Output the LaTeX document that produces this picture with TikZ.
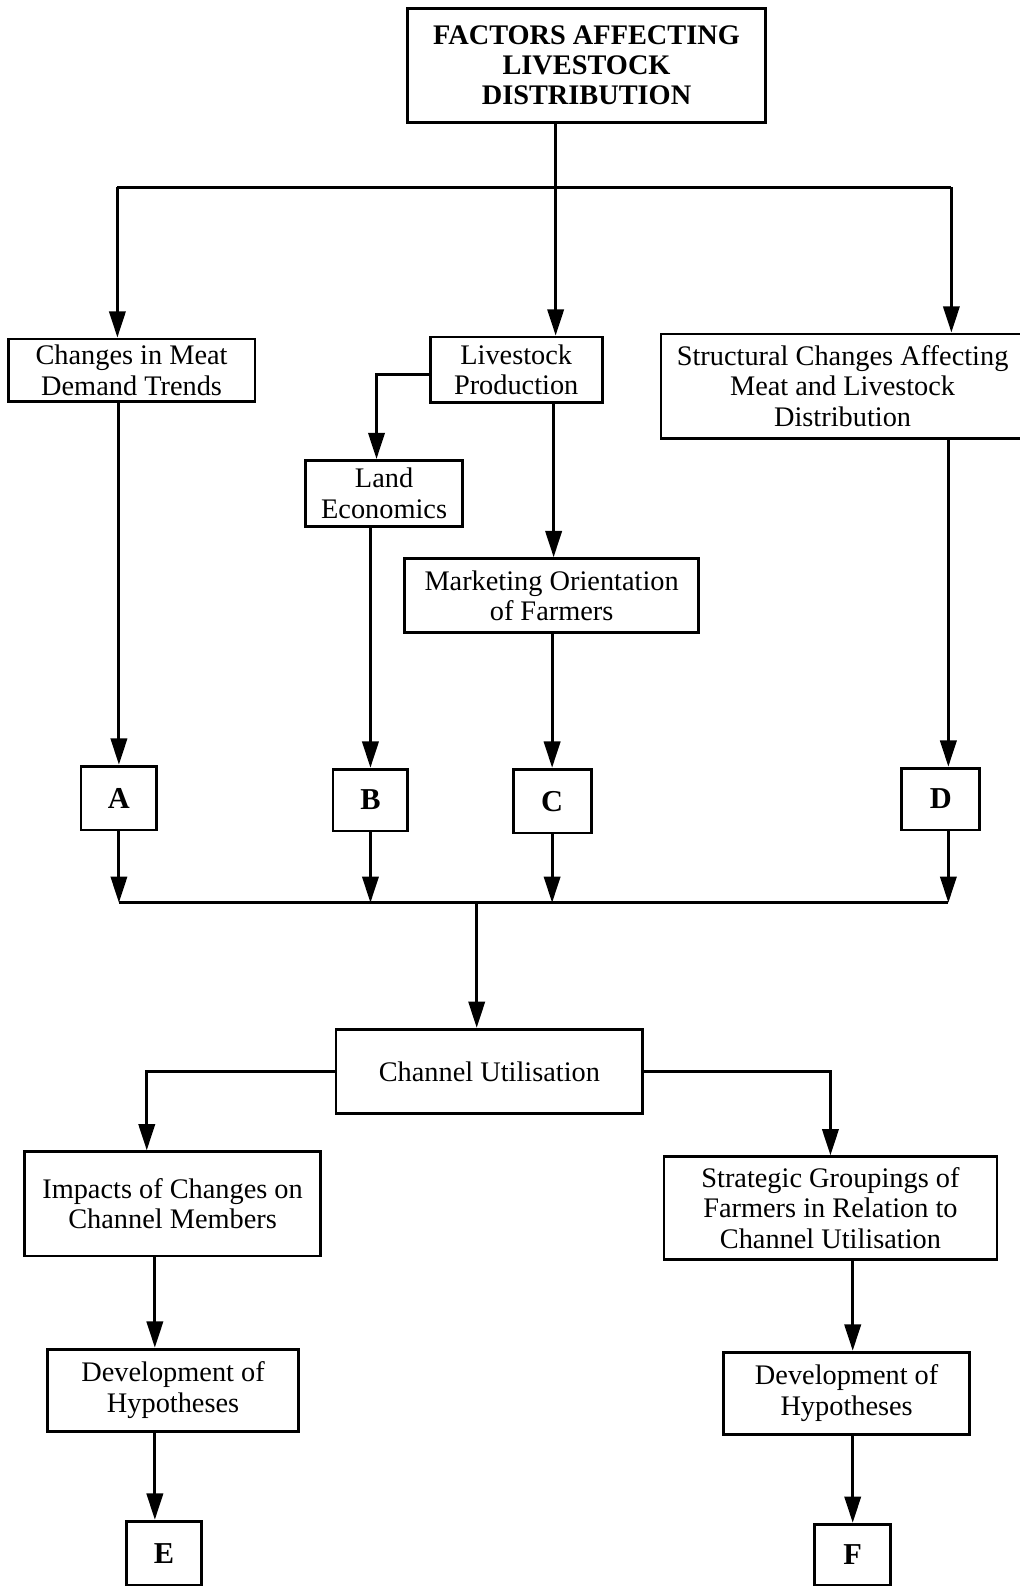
\documentclass[tikz,border=0pt]{standalone}
\usepackage{fontspec}
\setmainfont{Liberation Serif}
\usetikzlibrary{arrows.meta}

\tikzset{
  box/.style={draw, line width=2.8pt, align=center, inner sep=0pt,
              font=\fontsize{28}{30}\selectfont},
  letterbox/.style={box, font=\bfseries\fontsize{30}{30}\selectfont},
  ln/.style={line width=3.1pt},
  arr/.style={line width=3.1pt, -{Triangle[length=26pt,width=16pt]}},
}

\begin{document}
\begin{tikzpicture}[x=1pt, y=-1pt]
\useasboundingbox (0,0) rectangle (1007,1568);

% boxes
\node[box, minimum width=353pt, minimum height=113pt, font=\bfseries\fontsize{28}{30}\selectfont]
  (top) at (579.5,64.5) {FACTORS AFFECTING\\LIVESTOCK\\DISTRIBUTION};
\node[box, minimum width=244pt, minimum height=62pt] (changes) at (130,366)
  {Changes in Meat\\Demand Trends};
\node[box, minimum width=170pt, minimum height=65pt] (livestock) at (510,365.5)
  {Livestock\\Production};
\node[box, minimum width=359pt, minimum height=103pt] (structural) at (832.5,381.5)
  {Structural Changes Affecting\\Meat and Livestock\\Distribution};
\node[box, minimum width=155pt, minimum height=65pt] (land) at (379.5,487.5)
  {Land\\Economics};
\node[box, minimum width=290pt, minimum height=73pt] (marketing) at (545,588.5)
  {Marketing Orientation\\of Farmers};

\node[letterbox, minimum width=75pt, minimum height=63pt] (A) at (117.5,788.5) {A};
\node[letterbox, minimum width=74pt, minimum height=61pt] (B) at (366,790.5) {B};
\node[letterbox, minimum width=77pt, minimum height=63pt] (C) at (545.5,791.5) {C};
\node[letterbox, minimum width=77pt, minimum height=61pt] (D) at (929.5,789.5) {D};

\node[box, minimum width=303pt, minimum height=83pt] (channel) at (483.5,1058.5)
  {Channel Utilisation};
\node[box, minimum width=293pt, minimum height=103pt] (impacts) at (170.5,1189.5)
  {Impacts of Changes on\\Channel Members};
\node[box, minimum width=329pt, minimum height=101pt] (strategic) at (820.5,1193.5)
  {Strategic Groupings of\\Farmers in Relation to\\Channel Utilisation};
\node[box, minimum width=248pt, minimum height=81pt] (devL) at (171,1373.5)
  {Development of\\Hypotheses};
\node[box, minimum width=243pt, minimum height=81pt] (devR) at (836.5,1376.5)
  {Development of\\Hypotheses};
\node[letterbox, minimum width=74pt, minimum height=63pt] (E) at (162,1534.5) {E};
\node[letterbox, minimum width=75pt, minimum height=60pt] (F) at (842.5,1536) {F};

% helper coordinates for the connector routes
\coordinate (t0) at (549,185);
\coordinate (busL) at (116,185);
\coordinate (busR) at (940,185);
\coordinate (lk) at (372,370);
\coordinate (xm) at (547,0);
\coordinate (xd) at (937,0);
\coordinate (b2) at (0,892);
\coordinate (xc) at (471,0);
\coordinate (xi) at (145,0);
\coordinate (xe) at (153,0);

% top distribution
\draw[ln] (t0 |- top.south) -- (t0);
\draw[ln] (busL) -- (busR);
\draw[arr] (busL) -- (busL |- changes.north);
\draw[arr] (t0) -- (t0 |- livestock.north);
\draw[arr] (busR) -- (busR |- structural.north);

% livestock production branches
\draw[arr] (livestock.west |- lk) -- (lk) -- (lk |- land.north);
\draw[arr] (xm |- livestock.south) -- (xm |- marketing.north);

% down to the letter boxes
\draw[arr] (A.north |- changes.south) -- (A.north);
\draw[arr] (B.north |- land.south) -- (B.north);
\draw[arr] (C.north |- marketing.south) -- (C.north);
\draw[arr] (xd |- structural.south) -- (xd |- D.north);

% letter boxes into the collecting line
\draw[arr] (A.south) -- (A.south |- b2);
\draw[arr] (B.south) -- (B.south |- b2);
\draw[arr] (C.south) -- (C.south |- b2);
\draw[arr] (xd |- D.south) -- (xd |- b2);
\draw[ln] (A.south |- b2) -- (xd |- b2);
\draw[arr] (xc |- b2) -- (xc |- channel.north);

% channel utilisation branches
\draw[arr] (channel.west) -- (xi |- channel.west) -- (xi |- impacts.north);
\draw[arr] (channel.east) -- (strategic.north |- channel.east) -- (strategic.north);

% hypotheses
\draw[arr] (xe |- impacts.south) -- (xe |- devL.north);
\draw[arr] (xe |- devL.south) -- (xe |- E.north);
\draw[arr] (F.north |- strategic.south) -- (F.north |- devR.north);
\draw[arr] (F.north |- devR.south) -- (F.north);

\end{tikzpicture}
\end{document}
